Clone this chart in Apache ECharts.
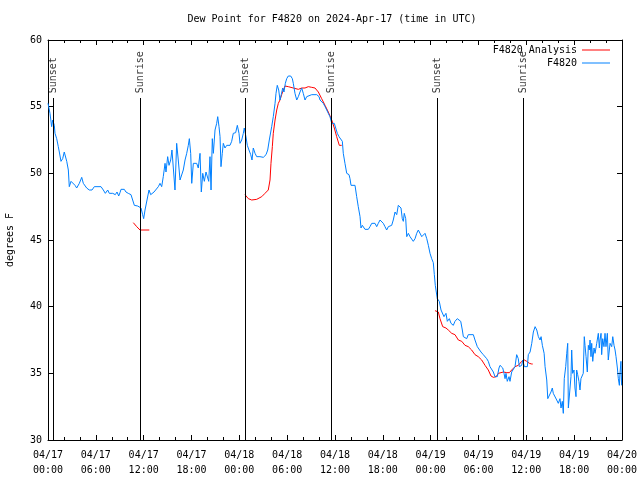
<!DOCTYPE html>
<html>
<head>
<meta charset="utf-8">
<script src="https://cdn.jsdelivr.net/npm/echarts@6/dist/echarts.min.js"></script>
<style>html,body{margin:0;padding:0;background:#fff}#c{width:640px;height:480px}</style>
</head>
<body>
<div id="c"></div>
<script>
const titleText = 'Dew Point for F4820 on 2024-Apr-17 (time in UTC)';
const yName = 'degrees F';
const xTickLabels = ['04/17\n00:00','04/17\n06:00','04/17\n12:00','04/17\n18:00','04/18\n00:00','04/18\n06:00','04/18\n12:00','04/18\n18:00','04/19\n00:00','04/19\n06:00','04/19\n12:00','04/19\n18:00','04/20\n00:00'];
const eventHours = [0.63, 11.54, 24.71, 35.50, 48.83, 59.62];
const eventNames = ['Sunset','Sunrise','Sunset','Sunrise','Sunset','Sunrise'];

// F4820 observations: hours since 04/17 00:00 UTC, dew point (F)
const blueHours = [0.00,0.16,0.25,0.46,0.59,0.66,0.79,0.88,1.09,1.29,1.42,1.63,1.84,2.04,2.17,2.35,2.55,2.67,2.89,3.10,3.39,3.60,3.93,4.23,4.43,4.64,4.85,5.18,5.52,5.81,6.65,6.94,7.19,7.49,7.69,8.12,8.44,8.66,8.87,9.03,9.16,9.57,9.78,10.07,10.41,10.62,10.83,11.25,11.45,11.67,11.87,12.00,12.17,12.38,12.67,12.88,13.08,13.30,13.55,13.84,14.05,14.26,14.46,14.68,14.80,15.01,15.18,15.39,15.55,15.72,15.93,16.14,16.34,16.56,16.77,16.97,17.19,17.40,17.60,17.73,17.90,18.03,18.23,18.44,18.65,18.85,19.07,19.23,19.41,19.61,19.82,20.03,20.16,20.32,20.45,20.61,20.74,20.95,21.16,21.29,21.45,21.58,21.70,21.86,21.99,22.20,22.42,22.83,23.04,23.24,23.54,23.75,23.96,24.08,24.30,24.50,24.62,24.83,25.00,25.21,25.43,25.59,25.75,25.97,26.18,26.59,27.01,27.35,27.56,27.76,28.06,28.26,28.48,28.60,28.76,28.94,29.10,29.26,29.44,29.60,29.77,29.94,30.14,30.44,30.65,30.77,30.98,31.20,31.40,31.61,31.82,32.02,32.24,32.45,32.65,33.08,33.71,34.00,34.12,34.33,34.53,34.75,34.96,35.16,35.37,35.59,35.91,36.09,36.29,36.50,36.75,36.92,37.04,37.25,37.47,37.59,37.76,37.88,38.01,38.51,38.72,38.92,39.14,39.26,39.43,39.64,39.76,40.18,40.39,40.61,41.02,41.23,41.43,41.65,41.86,42.06,42.27,42.48,42.69,43.11,43.31,43.53,43.74,43.94,44.15,44.28,44.44,44.57,44.69,44.87,45.00,45.20,45.41,45.62,45.82,46.04,46.25,46.45,46.66,46.88,47.08,47.29,47.51,47.71,47.92,48.13,48.33,48.46,48.58,48.83,49.08,49.30,49.51,49.67,49.92,50.09,50.34,50.55,50.84,51.05,51.34,51.59,51.77,51.97,52.10,52.31,52.52,52.72,53.35,53.56,53.85,54.10,54.31,54.48,54.60,54.82,55.03,55.23,55.44,55.66,55.86,56.07,56.36,56.57,56.70,56.91,57.04,57.20,57.33,57.45,57.61,57.83,57.95,58.16,58.36,58.58,58.79,58.99,59.12,59.42,59.55,59.75,60.13,60.25,60.47,60.68,60.88,61.10,61.31,61.51,61.72,61.85,62.01,62.23,62.35,62.56,62.69,62.88,63.09,63.26,63.38,63.60,63.81,64.01,64.22,64.35,64.51,64.64,64.76,64.94,65.07,65.19,65.27,65.48,65.60,65.69,65.81,65.98,66.10,66.23,66.31,66.44,66.60,66.73,66.85,66.94,67.14,67.27,67.36,67.49,67.65,67.78,67.90,67.99,68.11,68.20,68.33,68.49,68.62,68.83,69.03,69.16,69.24,69.37,69.45,69.58,69.74,69.87,69.99,70.16,70.28,70.50,70.71,70.84,71.00,71.13,71.25,71.42,71.54,71.67,71.75,71.87,71.95];
const blueValues = [55.25,55.1,54.5,53.5,54.0,54.1,53.6,53.0,52.6,52.0,51.6,50.9,51.1,51.6,51.75,50.9,50.25,49.0,49.4,49.4,49.1,48.9,49.25,49.7,49.25,49.1,48.9,48.75,48.75,49.0,49.0,48.75,48.5,48.75,48.5,48.5,48.4,48.6,48.3,48.55,48.8,48.8,48.6,48.5,48.4,48.0,47.6,47.55,47.6,47.4,46.9,46.6,47.25,47.4,48.75,48.4,48.25,48.6,48.5,49.0,49.25,49.0,49.75,50.75,50.1,51.25,50.6,51.0,51.75,50.4,48.75,52.25,51.0,49.5,49.6,50.25,51.0,51.5,52.1,52.6,51.5,49.25,50.75,50.6,50.75,50.4,51.5,48.6,50.0,49.4,50.1,50.25,49.4,51.25,48.75,52.6,51.5,53.25,53.75,54.25,53.5,52.75,50.5,51.5,52.25,51.9,52.1,52.1,52.4,53.0,53.05,53.6,53.0,52.25,52.5,53.0,53.4,52.75,52.1,51.75,51.4,51.0,51.9,51.5,51.25,51.25,51.2,51.4,51.75,52.5,53.5,54.25,55.25,56.0,56.6,56.25,55.5,55.9,56.4,56.1,56.75,57.1,57.3,57.3,57.1,56.75,56.0,55.5,55.75,56.1,56.4,56.0,55.5,55.75,55.9,55.9,55.9,55.75,55.5,55.6,55.25,55.0,54.75,54.5,54.25,53.75,53.75,53.4,53.0,52.75,52.75,52.4,51.5,50.75,50.0,50.1,49.9,49.6,49.1,49.1,48.25,47.5,46.75,45.9,46.1,46.0,45.8,45.8,46.0,46.25,46.25,46.0,46.25,46.5,46.4,46.25,46.0,45.75,46.0,46.1,46.5,47.1,46.9,47.6,47.75,47.4,46.6,46.4,47.0,46.6,45.25,45.5,45.25,45.1,44.9,45.1,45.5,45.75,45.6,45.25,45.1,45.5,45.1,44.6,44.0,43.6,43.3,42.4,41.6,40.6,40.4,39.75,39.75,39.25,39.5,38.9,39.1,38.75,38.6,38.9,39.1,39.1,38.9,38.25,37.75,37.9,37.6,37.9,37.9,37.5,37.0,36.9,36.6,36.75,36.4,36.5,36.1,35.9,35.5,35.4,35.1,34.75,34.75,35.4,35.6,35.6,35.4,35.0,34.6,35.0,34.4,34.75,34.4,35.1,35.1,35.5,36.4,36.1,35.5,35.6,36.0,35.5,35.5,36.4,36.6,37.25,38.1,38.5,38.25,37.75,37.5,37.75,37.1,36.5,35.5,34.5,33.1,33.25,33.6,33.9,33.5,33.4,33.0,32.75,33.1,32.4,32.9,32.0,34.6,35.5,36.5,37.25,32.4,32.4,34.75,36.75,35.0,35.25,33.9,33.25,35.25,34.9,34.4,33.75,34.6,34.5,35.0,37.75,37.1,36.25,35.1,37.1,36.75,37.5,36.25,37.25,35.9,36.9,36.5,37.25,38.0,36.9,37.5,38.0,36.4,37.6,37.0,38.0,37.0,38.0,36.0,37.25,37.0,37.75,37.1,36.75,36.25,35.4,34.6,34.1,35.0,35.9,34.1];

// F4820 Analysis: three separate runs
const redHoursA = [10.70,11.13,11.54,12.71];
const redValuesA = [46.3,46.0,45.75,45.75];
const redHoursB = [24.71,25.13,25.55,26.18,26.81,27.22,27.63,27.85,27.97,28.14,28.26,28.48,28.69,28.89,29.10,29.31,29.52,29.73,30.14,30.77,31.40,31.82,32.24,32.65,33.08,33.49,33.91,34.33,34.75,35.16,35.59,35.91,36.21,36.54,36.84];
const redValuesB = [48.4,48.1,48.0,48.05,48.25,48.5,48.75,49.5,50.75,52.0,53.0,54.0,54.75,55.25,55.5,55.9,56.25,56.55,56.5,56.4,56.3,56.4,56.4,56.5,56.45,56.4,56.1,55.6,55.1,54.6,54.0,53.4,52.75,52.1,52.1];
const redHoursC = [48.54,48.96,49.17,49.51,49.92,50.21,50.64,51.05,51.47,51.90,52.31,52.72,53.14,53.56,53.97,54.40,54.82,55.23,55.57,55.86,56.21,56.50,56.70,57.12,57.55,57.87,58.16,58.58,58.99,59.42,59.75,60.05,60.38,60.68,60.80];
const redValuesC = [39.7,39.6,39.1,38.5,38.4,38.25,38.0,37.9,37.5,37.4,37.1,37.0,36.75,36.4,36.25,36.0,35.6,35.25,34.8,34.7,34.75,35.0,35.1,35.1,35.05,35.05,35.25,35.5,35.6,35.9,36.0,35.9,35.75,35.7,35.7];

const RED = '#ff0000', BLUE = '#0080ff';
const FONT = 'DejaVu Sans Mono';
const pair = (xs, ys) => xs.map((x, i) => [x, ys[i]]);

const chart = echarts.init(document.getElementById('c'), null, {renderer: 'canvas'});

const tickCommon = {
  axisLine: {show: true, onZero: false, lineStyle: {color: '#000', width: 1}},
  splitLine: {show: false}
};
function xAx(pos, showLabel) {
  return Object.assign({
    type: 'value', min: 0, max: 72, interval: 6, position: pos,
    axisTick: {show: true, inside: true, length: 5, lineStyle: {color: '#000'}},
    minorTick: {show: true, splitNumber: 3, length: 3, lineStyle: {color: '#000'}},
    axisLabel: {show: showLabel, fontFamily: FONT, fontSize: 10, color: '#000', lineHeight: 15, margin: 8,
      formatter: v => xTickLabels[Math.round(v / 6)]}
  }, tickCommon);
}
function yAx(pos, showLabel) {
  return Object.assign({
    type: 'value', min: 30, max: 60, interval: 5, position: pos,
    axisTick: {show: true, inside: true, length: 5, lineStyle: {color: '#000'}},
    axisLabel: {show: showLabel, fontFamily: FONT, fontSize: 10, color: '#000', margin: 6}
  }, tickCommon);
}

const yLeft = yAx('left', true);
yLeft.name = yName;
yLeft.nameLocation = 'middle';
yLeft.nameRotate = 90;
yLeft.nameGap = 33;
yLeft.nameTextStyle = {fontFamily: FONT, fontSize: 10, color: '#000'};

const lineSeries = (name, data, color, z) => ({
  name, type: 'line', data, showSymbol: false, symbol: 'none',
  lineStyle: {color, width: 1}, itemStyle: {color}, color,
  xAxisIndex: 0, yAxisIndex: 0, animation: false, z
});

chart.setOption({
  animation: false,
  backgroundColor: '#fff',
  title: {
    text: titleText, left: 332, textAlign: 'center', top: 14, padding: 0,
    textStyle: {fontFamily: FONT, fontSize: 10, fontWeight: 'normal', color: '#000'}
  },
  legend: [
    {data: ['F4820 Analysis'], right: 30, top: 45, align: 'right', icon: 'rect', itemWidth: 28, itemHeight: 1, padding: 0,
     textStyle: {fontFamily: FONT, fontSize: 10, color: '#000'}},
    {data: ['F4820'], right: 30, top: 58, align: 'right', icon: 'rect', itemWidth: 28, itemHeight: 1, padding: 0,
     textStyle: {fontFamily: FONT, fontSize: 10, color: '#000'}}
  ],
  grid: {left: 48, right: 18, top: 40, bottom: 40, containLabel: false, outerBoundsMode: 'none', show: false},
  xAxis: [xAx('bottom', true), xAx('top', false)],
  yAxis: [yLeft, yAx('right', false)],
  series: [
    lineSeries('F4820 Analysis', pair(redHoursA, redValuesA), RED, 2),
    lineSeries('F4820 Analysis', pair(redHoursB, redValuesB), RED, 2),
    lineSeries('F4820 Analysis', pair(redHoursC, redValuesC), RED, 2),
    lineSeries('F4820', pair(blueHours, blueValues), BLUE, 3),
    {
      name: 'events', type: 'scatter', symbolSize: 0.01, itemStyle: {color: 'rgba(0,0,0,0)'},
      silent: true, z: 4,
      data: eventHours.map((h, i) => ({value: [h, 56.0], name: eventNames[i]})),
      label: {show: true, formatter: '{b}', rotate: 90, position: [0, 0], align: 'left', verticalAlign: 'middle',
        fontFamily: FONT, fontSize: 10, color: '#000'},
      markLine: {
        silent: true, symbol: ['none', 'none'], animation: false,
        lineStyle: {color: '#000', width: 1, type: 'solid'},
        label: {show: false},
        data: eventHours.map(h => [{coord: [h, 30]}, {coord: [h, 55.65]}])
      }
    }
  ]
});
</script>
</body>
</html>
